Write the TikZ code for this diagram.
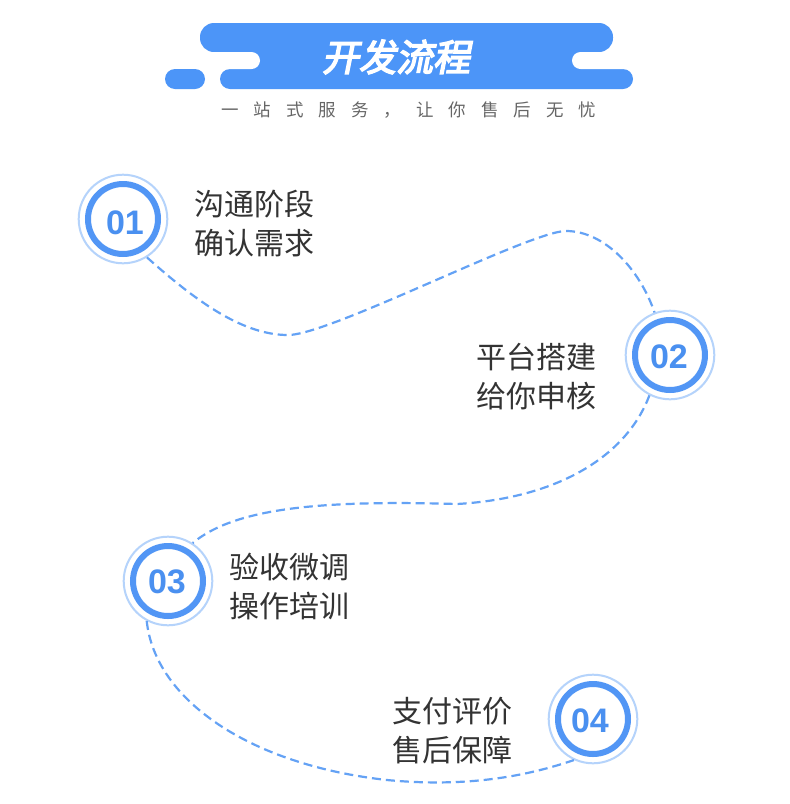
\documentclass[tikz,border=0pt]{standalone}
\usepackage{fontspec}
\newfontfamily\cjk{Noto Sans CJK SC}
\newfontfamily\cjktitle[FakeSlant=0.2,FakeBold=4]{Noto Sans CJK SC}
\newfontfamily\numfont{Liberation Sans}
\definecolor{banner}{HTML}{4C95F8}
\definecolor{ringthick}{HTML}{5296F5}
\definecolor{ringlight}{HTML}{B5D3FB}
\definecolor{dashblue}{HTML}{64A2F5}
\definecolor{textgray}{HTML}{333333}
\definecolor{subgray}{HTML}{666666}
\definecolor{numblue}{HTML}{4A90F0}
\tikzset{
  circ/.style={circle, draw=ringlight, fill=white, line width=2pt, minimum size=88.6pt, inner sep=0pt},
  thickring/.style={draw=ringthick, line width=6pt},
  numtxt/.style={anchor=base, inner sep=0pt, text=numblue, font=\numfont\bfseries\fontsize{34}{40}\selectfont},
  lbl/.style={anchor=base west, inner sep=0pt, text=textgray, font=\cjk\fontsize{30}{36}\selectfont},
  dashline/.style={draw=dashblue, line width=2.2pt, dash pattern=on 9pt off 5pt}
}
\begin{document}
\begin{tikzpicture}[x=1pt,y=-1pt]
\useasboundingbox (0,0) rectangle (790,804);
\fill[white] (0,0) rectangle (790,804);
% banner
\fill[banner, rounded corners=10pt] (220,69) rectangle (633,89);
\fill[banner] (250,40) rectangle (585,80);
\fill[banner, rounded corners=14pt] (200,23) rectangle (613,52);
\fill[white, rounded corners=8.5pt] (150,52) rectangle (260,69);
\fill[white, rounded corners=8.5pt] (572,52) rectangle (690,69);
\fill[banner, rounded corners=10pt] (165,69) rectangle (205,89);
\node[anchor=base, inner sep=0pt, text=white, font=\cjktitle\fontsize{37}{40}\selectfont] (title) at (396,71) {开发流程};
\node[anchor=base west, inner sep=0pt, text=subgray, font=\cjk\fontsize{17.5}{20}\selectfont] (subtitle) at (221,116.5)
 {一\hspace{15pt}站\hspace{15pt}式\hspace{15pt}服\hspace{15pt}务\hspace{15pt}，\hspace{15pt}让\hspace{15pt}你\hspace{15pt}售\hspace{15pt}后\hspace{15pt}无\hspace{15pt}忧};
% circles
\node[circ] (c1) at (123,219) {};
\node[circ] (c2) at (670,355) {};
\node[circ] (c3) at (168,581) {};
\node[circ] (c4) at (593,719) {};
\draw[thickring] (c1.center) circle (35pt);
\draw[thickring] (c2.center) circle (35pt);
\draw[thickring] (c3.center) circle (35pt);
\draw[thickring] (c4.center) circle (35pt);
\node[numtxt] (n1) at (125,234.7) {01};
\node[numtxt] (n2) at (669,368.7) {02};
\node[numtxt] (n3) at (167,593.7) {03};
\node[numtxt] (n4) at (590,732.7) {04};
% connectors
\coordinate (k1) at (288,335);
\coordinate (k2) at (566,231);
\coordinate (k3) at (457,504);
\coordinate (k4) at (387,780);
\draw[dashline] (c1.-58) .. controls (200,305) and (245,335) .. (k1)
  .. controls (330,335) and (530,231) .. (k2)
  .. controls (605,231) and (640,270) .. (c2.110);
\draw[dashline] (c2.-117) .. controls (627,455) and (560,498) .. (k3)
  .. controls (320,500) and (235,508) .. (c3.57);
\draw[dashline] (c3.-118) .. controls (155,700) and (250,765) .. (k4)
  .. controls (470,788) and (530,775) .. (c4.-115);
% labels
\node[lbl] (t1a) at (194,215.4) {沟通阶段};
\node[lbl] (t1b) at (194,254.4) {确认需求};
\node[lbl] (t2a) at (476,368.4) {平台搭建};
\node[lbl] (t2b) at (476,407.4) {给你申核};
\node[lbl] (t3a) at (229,578.4) {验收微调};
\node[lbl] (t3b) at (229,617.4) {操作培训};
\node[lbl] (t4a) at (392,722.4) {支付评价};
\node[lbl] (t4b) at (392,761.4) {售后保障};
\end{tikzpicture}
\end{document}
